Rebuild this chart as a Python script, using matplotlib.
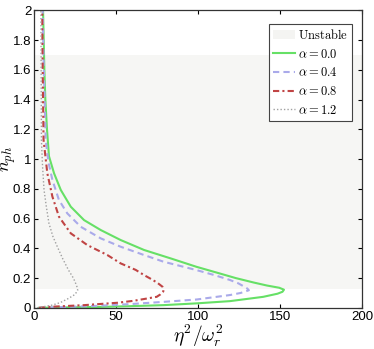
import numpy as np
import matplotlib
matplotlib.use('Agg')
import matplotlib.pyplot as plt
from matplotlib.patches import Patch

plt.rcParams['font.family'] = ['Liberation Sans', 'DejaVu Sans']
plt.rcParams['mathtext.fontset'] = 'cm'

# curves: eta^2/omega_r^2 (x) vs n_ph (y), lower branch -> tip -> upper branch
x_a00 = [3, 20, 40, 58.5, 78.9, 99.2, 119.5, 139.8, 148.5, 151.5, 152.4, 149.5,
         142, 134, 123, 112, 99, 84, 67.1, 52.8, 40.7, 30.5, 22.4, 16.3, 12.2, 9.1, 7.9, 6.9, 6.3, 5.9, 5.5]
n_a00 = [0.0, 0.003, 0.006, 0.011, 0.018, 0.03, 0.045, 0.074, 0.095, 0.108, 0.122, 0.135,
         0.15, 0.17, 0.2, 0.235, 0.276, 0.33, 0.389, 0.456, 0.523, 0.59, 0.68, 0.793, 0.905, 1.02, 1.2, 1.4, 1.6, 1.8, 2.0]

x_a04 = [3, 18, 38, 58.5, 78.9, 99.2, 119.5, 126, 131,
         130, 127.6, 124.5, 119.5, 110, 99, 79, 67.1, 52.8, 40.7, 28.5, 20.3, 15.2, 11.2, 8.8, 7.1, 6.5, 6.0, 5.6, 5.3]
n_a04 = [0.0, 0.005, 0.013, 0.025, 0.04, 0.056, 0.086, 0.1, 0.118,
         0.13, 0.146, 0.165, 0.187, 0.22, 0.254, 0.31, 0.355, 0.411, 0.467, 0.545, 0.635, 0.725, 0.86, 0.98, 1.13, 1.4, 1.6, 1.8, 2.0]

x_a08 = [3, 10.2, 30.5, 50.8, 60.6, 69.1, 74.8, 77, 78.8, 79,
         78.3, 75, 70.7, 67.1, 62, 52.8, 44.7, 32.5, 22.4, 15.2, 11.2, 8.1, 5.8, 5.5, 5.3, 5.1, 5.0]
n_a08 = [0.0, 0.007, 0.018, 0.034, 0.047, 0.063, 0.074, 0.09, 0.11, 0.124,
         0.142, 0.17, 0.198, 0.22, 0.255, 0.299, 0.355, 0.422, 0.501, 0.613, 0.748, 0.905, 1.13, 1.4, 1.6, 1.8, 2.0]

x_a12 = [2, 5, 11, 16, 21, 25, 26.6,
         26.4, 25.4, 24, 21, 17.5, 14.2, 11.5, 9.1, 7.5, 6.1, 5.2, 4.5, 4.4, 4.3, 4.2]
n_a12 = [0.0, 0.006, 0.018, 0.035, 0.063, 0.09, 0.118,
         0.135, 0.164, 0.2, 0.254, 0.33, 0.411, 0.48, 0.568, 0.68, 0.793, 0.95, 1.129, 1.4, 1.7, 2.0]

band_lo, band_hi = 0.126, 1.70

fig = plt.figure(figsize=(3.74, 3.49), dpi=100)
ax = fig.add_axes([0.091, 0.118, 0.877, 0.852])

ax.axhspan(band_lo, band_hi, color='#f6f6f4', lw=0, zorder=0)
ax.plot(x_a00, n_a00, color='#66e066', lw=1.5, ls='-', label=r'$\alpha = 0.0$')
ax.plot(x_a04, n_a04, color='#aaaaea', lw=1.5, ls=(0, (3, 2)), label=r'$\alpha = 0.4$')
ax.plot(x_a08, n_a08, color='#c04444', lw=1.5, ls=(0, (3, 1.5, 1, 1.5)), label=r'$\alpha = 0.8$')
ax.plot(x_a12, n_a12, color='#a0a0a0', lw=1.0, ls=(0, (1, 1.5)), label=r'$\alpha = 1.2$')

ax.set_xlim(0, 200)
ax.set_ylim(0, 2)
ax.set_xticks([0, 50, 100, 150, 200])
ax.set_yticks(np.arange(0, 2.01, 0.2))
ax.set_yticklabels(['0', '0.2', '0.4', '0.6', '0.8', '1', '1.2', '1.4', '1.6', '1.8', '2'])
ax.tick_params(direction='in', top=True, right=True, labelsize=9.5, length=3, pad=2)
for s in ax.spines.values():
    s.set_color('#333333')
    s.set_linewidth(0.9)

ax.set_xlabel(r'$\eta^2/\omega_r^2$', fontsize=14)
ax.xaxis.set_label_coords(0.5, -0.05)
ax.set_ylabel(r'$n_{ph}$', fontsize=13)
ax.yaxis.set_label_coords(-0.05, 0.5)

handles, labels = ax.get_legend_handles_labels()
handles = [Patch(facecolor='#f4f4f2', edgecolor='none')] + handles
labels = [r'$\mathrm{Unstable}$'] + labels
leg = ax.legend(handles, labels, loc='upper right', bbox_to_anchor=(0.97, 0.955),
                fontsize=9, fancybox=False, framealpha=1, edgecolor='#444444',
                handlelength=1.7, handletextpad=0.25, borderpad=0.35, labelspacing=0.45,
                borderaxespad=0)
leg.get_frame().set_linewidth(0.8)

fig.savefig('out.png', dpi=100)
